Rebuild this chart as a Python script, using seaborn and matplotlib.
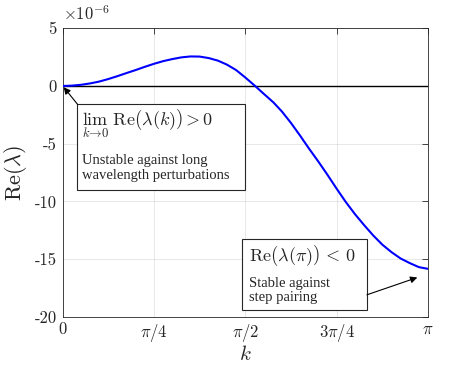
import numpy as np
import matplotlib
matplotlib.use("Agg")
import matplotlib.pyplot as plt
import seaborn as sns
from matplotlib.patches import Rectangle

# values (k in units of pi, Re(lambda) in units of 1e-6)
k_over_pi = [0.0, 0.025, 0.05, 0.075, 0.10, 0.125, 0.15, 0.175, 0.20, 0.225,
             0.25, 0.275, 0.30, 0.325, 0.35, 0.375, 0.40, 0.425, 0.45, 0.475,
             0.50, 0.527, 0.55, 0.577, 0.60, 0.625, 0.65, 0.675, 0.70, 0.725,
             0.75, 0.775, 0.80, 0.825, 0.85, 0.875, 0.90, 0.925, 0.95, 0.975,
             1.0]
re_lambda = [0.0, 0.03, 0.1, 0.22, 0.38, 0.6, 0.85, 1.12, 1.38, 1.66,
             1.92, 2.15, 2.33, 2.48, 2.56, 2.55, 2.42, 2.2, 1.85, 1.38,
             0.74, 0.0, -0.66, -1.42, -2.2, -3.2, -4.3, -5.45, -6.55, -7.7,
             -8.9, -10.05, -11.1, -12.05, -12.95, -13.75, -14.4, -14.95, -15.35, -15.7,
             -15.85]

x_ticks_over_pi = [0, 0.25, 0.5, 0.75, 1.0]
x_tick_labels = [r"$0$", r"$\pi/4$", r"$\pi/2$", r"$3\pi/4$", r"$\pi$"]
y_ticks = [-20, -15, -10, -5, 0, 5]
y_tick_labels = ["-20", "-15", "-10", "-5", "0", "5"]

sns.set_style("white")
plt.rcParams["mathtext.fontset"] = "cm"
plt.rcParams["font.family"] = ["Liberation Serif", "DejaVu Serif"]

dark = (0.15, 0.15, 0.15)
k = np.array(k_over_pi) * np.pi

fig = plt.figure(figsize=(4.74, 3.70), dpi=100)
ax = fig.add_axes([0.1319, 0.144, 0.771, 0.7795])

ax.axhline(0, color="black", lw=1.0, zorder=2)
sns.lineplot(x=k, y=re_lambda, color=(0, 0, 1), lw=1.5, ax=ax, zorder=3)

ax.set_xlim(0, np.pi)
ax.set_ylim(-20, 5)
ax.set_xticks(np.array(x_ticks_over_pi) * np.pi)
ax.set_xticklabels(x_tick_labels, fontsize=12)
ax.set_yticks(y_ticks)
ax.set_yticklabels(y_tick_labels, fontfamily="cmr10", fontsize=12)

ax.grid(True, color=dark, alpha=0.12, lw=0.6)
ax.tick_params(direction="in", top=True, right=True, length=4, width=0.6,
               colors=dark, pad=4)
for s in ax.spines.values():
    s.set_color(dark)
    s.set_linewidth(0.6)

ax.set_xlabel(r"$k$", fontsize=15, color=dark, labelpad=1)
ax.set_ylabel(r"$\mathrm{Re}(\lambda)$", fontsize=16, color=dark, labelpad=4)
ax.text(0.0, 1.015, r"$\times10^{-6}$", transform=ax.transAxes, fontsize=12,
        color=dark, ha="left", va="bottom")

# annotation box 1
ax.add_patch(Rectangle((0.125, -9.0), 1.444, 7.4, facecolor="white",
                       edgecolor=dark, lw=0.8, zorder=4))
ax.text(0.17, -3.45, r"$\lim_{k\to 0}\ \mathrm{Re}\left(\lambda(k)\right)\,>\,0$",
        fontsize=13, ha="left", va="baseline", zorder=5)
ax.text(0.17, -8.02, "Unstable against long\nwavelength perturbations",
        fontsize=10.5, ha="left", va="baseline", linespacing=1.15, zorder=5)
ax.annotate("", xy=(0.01, -0.1), xytext=(0.13, -1.6),
            arrowprops=dict(arrowstyle="-|>", color="black", lw=0.8,
                            mutation_scale=10, shrinkA=0, shrinkB=0), zorder=5)

# annotation box 2
ax.add_patch(Rectangle((1.543, -19.39), 1.074, 6.16, facecolor="white",
                       edgecolor=dark, lw=0.8, zorder=4))
ax.text(1.60, -15.14, r"$\mathrm{Re}\left(\lambda(\pi)\right)\,<\,0$",
        fontsize=13, ha="left", va="baseline", zorder=5)
ax.text(1.60, -18.67, "Stable against\nstep pairing",
        fontsize=10.5, ha="left", va="baseline", linespacing=1.15, zorder=5)
ax.annotate("", xy=(3.05, -16.6), xytext=(2.617, -18.1),
            arrowprops=dict(arrowstyle="-|>", color="black", lw=0.8,
                            mutation_scale=10, shrinkA=0, shrinkB=0), zorder=5)

fig.savefig("out.png", dpi=100)
